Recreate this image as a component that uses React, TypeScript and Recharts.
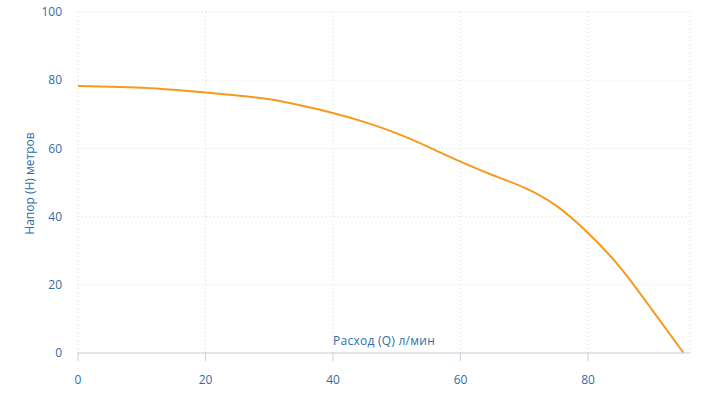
import { LineChart, Line, XAxis, YAxis, CartesianGrid, Label } from 'recharts';

// flow (Q, l/min) vs head (H, m)
const flowRates = [0, 5, 10, 15, 20, 25, 30, 35, 40, 45, 50, 55, 60, 65, 70, 75, 80, 85, 90, 95];
const heads = [78.3, 78.1, 77.8, 77.2, 76.4, 75.5, 74.4, 72.6, 70.4, 67.7, 64.4, 60.4, 56.1, 52.2, 48.5, 43.2, 35.2, 25.2, 12.8, 0];
const xTicks = [0, 20, 40, 60, 80];
const yTicks = [0, 20, 40, 60, 80, 100];

const data = flowRates.map((q, i) => ({ q, h: heads[i] }));

const blue = '#2f6ea5';
const font = '"Open Sans", sans-serif';

export default function App() {
    return (
        <div style={{ position: 'absolute', left: 0, top: 0, background: '#fff' }}>
            <LineChart width={712} height={393} data={data} margin={{ top: 12, right: 22, bottom: 0, left: 0 }}>
                <CartesianGrid stroke="#dcdcdc" strokeDasharray="1 3" />
                <XAxis
                    dataKey="q"
                    type="number"
                    domain={[0, 96]}
                    ticks={xTicks}
                    height={40}
                    stroke="#c8d0dc"
                    tickSize={8}
                    tickMargin={14}
                    tick={{ fill: blue, fontSize: 12, fontFamily: font }}
                >
                    <Label
                        value="Расход (Q) л/мин"
                        position="top"
                        offset={8}
                        fill={blue}
                        fontSize={12}
                        fontFamily={font}
                        letterSpacing={0.25}
                    />
                </XAxis>
                <YAxis
                    type="number"
                    domain={[0, 100]}
                    ticks={yTicks}
                    width={78}
                    axisLine={false}
                    tickLine={false}
                    tickSize={8}
                    tickMargin={8}
                    tick={{ fill: blue, fontSize: 12, fontFamily: font }}
                >
                    <Label
                        content={(props: any) => {
                            const vb = props.viewBox || {};
                            const x = vb.x + 29;
                            const y = vb.y + vb.height / 2 + 1;
                            return (
                                <text
                                    x={x}
                                    y={y}
                                    transform={`rotate(-90, ${x}, ${y})`}
                                    textAnchor="middle"
                                    dominantBaseline="central"
                                    fill={blue}
                                    fontSize={12}
                                    fontFamily={font}
                                >
                                    Напор (H) метров
                                </text>
                            );
                        }}
                    />
                </YAxis>
                <Line type="natural" dataKey="h" stroke="#f59a1e" strokeWidth={2} dot={false} isAnimationActive={false} />
            </LineChart>
        </div>
    );
}
